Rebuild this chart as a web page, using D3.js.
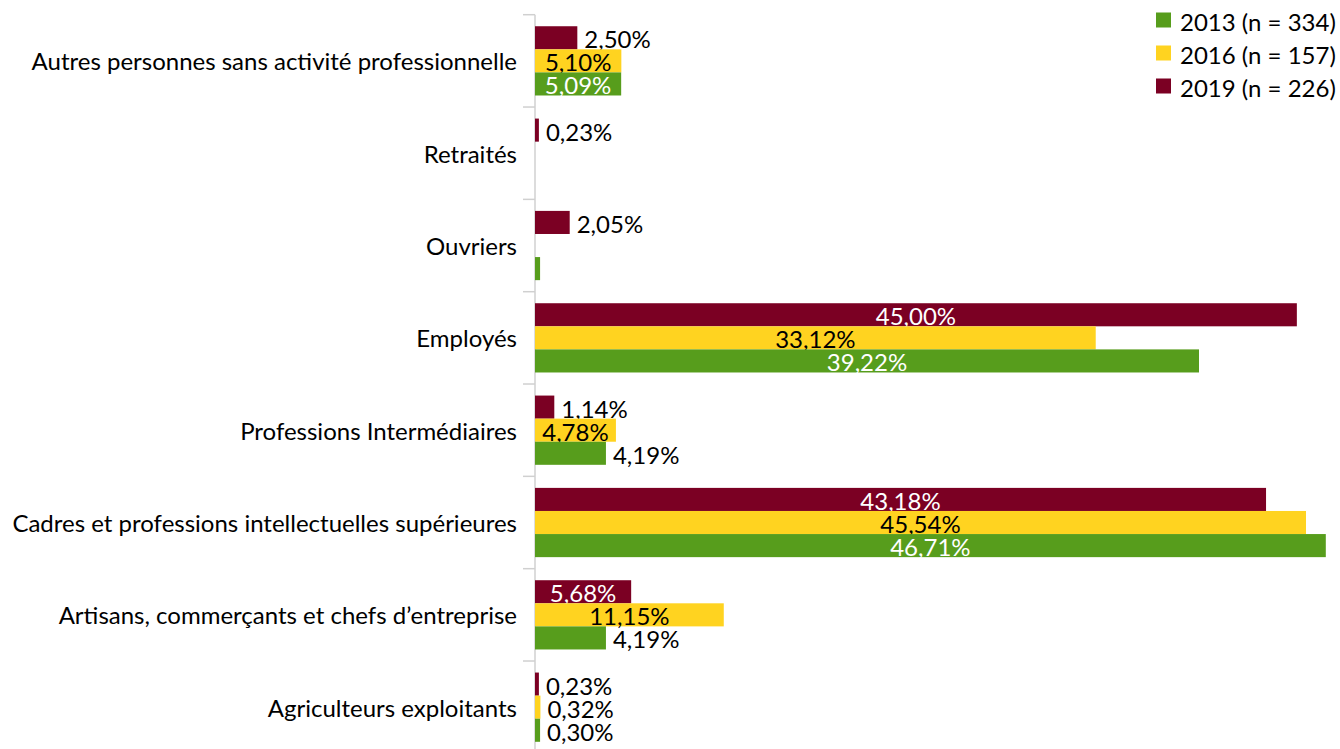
<!DOCTYPE html>
<html><head><meta charset="utf-8">
<script src="https://cdn.jsdelivr.net/npm/d3@7"></script>
<style>body{margin:0;background:#fff}svg{display:block}</style>
</head><body>
<svg id="c" width="1340" height="749"></svg>
<script>
const categories = ["Autres personnes sans activité professionnelle","Retraités","Ouvriers","Employés","Professions Intermédiaires","Cadres et professions intellectuelles supérieures","Artisans, commerçants et chefs d’entreprise","Agriculteurs exploitants"];
const seriesNames = ["2019 (n = 226)","2016 (n = 157)","2013 (n = 334)"];
const legendNames = ["2013 (n = 334)","2016 (n = 157)","2019 (n = 226)"];
const v2019 = [2.50,0.23,2.05,45.00,1.14,43.18,5.68,0.23];
const v2016 = [5.10,null,null,33.12,4.78,45.54,11.15,0.32];
const v2013 = [5.09,null,0.30,39.22,4.19,46.71,4.19,0.30];
const hiddenLabels = [["Ouvriers","2013 (n = 334)"]];

const colors = {"2019 (n = 226)":"#7B0023","2016 (n = 157)":"#FFD320","2013 (n = 334)":"#579D1C"};
const insideText = {"2019 (n = 226)":"#fff","2016 (n = 157)":"#000","2013 (n = 334)":"#fff"};
const values = {"2019 (n = 226)":v2019,"2016 (n = 157)":v2016,"2013 (n = 334)":v2013};

const svg = d3.select("#c");
const font = "Lato, 'Open Sans', sans-serif";
const fs = 24;
const x0 = 535;
const x = d3.scaleLinear().domain([0,50]).range([x0, x0 + 16.93*50]);
const y = d3.scaleBand().domain(categories).range([14.7, 14.7+92.33*8]).paddingInner(0.25).paddingOuter(0.125);
const yFull = d3.scaleBand().domain(categories).range([14.7, 14.7+92.33*8]);
const ys = d3.scaleBand().domain(seriesNames).range([0, y.bandwidth()]);

// axis
const axisG = svg.append("g");
axisG.append("line").attr("x1",x0).attr("x2",x0).attr("y1",14.7).attr("y2",749).attr("stroke","#d0d0d0").attr("stroke-width",1.5);
categories.forEach(c=>{
  const yt = yFull(c);
  axisG.append("line").attr("x1",x0-12).attr("x2",x0).attr("y1",yt).attr("y2",yt).attr("stroke","#d0d0d0").attr("stroke-width",1.5);
});
axisG.selectAll("text.cat").data(categories).join("text")
  .attr("x",517).attr("y",d=>yFull(d)+yFull.bandwidth()/2)
  .attr("text-anchor","end").attr("dominant-baseline","central")
  .attr("font-family",font).attr("font-size",fs).attr("fill","#000").text(d=>d);

const fmt = v => v.toFixed(2).replace(".",",")+"%";
const measure = svg.append("text").attr("font-family",font).attr("font-size",fs).attr("visibility","hidden");
function tw(t){measure.text(t);return measure.node().getComputedTextLength();}

seriesNames.forEach(s=>{
  const g = svg.append("g");
  const data = categories.map((c,i)=>({c, v: values[s][i]})).filter(d=>d.v!=null);
  g.selectAll("rect").data(data).join("rect")
    .attr("x",x0).attr("y",d=>y(d.c)+ys(s)).attr("width",d=>x(d.v)-x0).attr("height",ys.bandwidth())
    .attr("fill",colors[s]);
  data.forEach(d=>{
    if (hiddenLabels.some(h=>h[0]===d.c && h[1]===s)) return;
    const t = fmt(d.v);
    const w = tw(t);
    const bw = x(d.v)-x0;
    const inside = w + 10 <= bw;
    g.append("text")
      .attr("x", inside ? x0 + bw/2 : x(d.v) + 7)
      .attr("y", y(d.c)+ys(s)+ys.bandwidth()/2+1)
      .attr("text-anchor", inside ? "middle" : "start")
      .attr("dominant-baseline","central")
      .attr("font-family",font).attr("font-size",fs)
      .attr("fill", inside ? insideText[s] : "#000")
      .text(t);
  });
});

// legend
const lg = svg.append("g");
legendNames.forEach((n,i)=>{
  const cy = 20 + i*33;
  lg.append("rect").attr("x",1156).attr("y",cy-7.5).attr("width",15).attr("height",15).attr("fill",colors[n]);
  lg.append("text").attr("x",1180).attr("y",cy+1).attr("dominant-baseline","central")
    .attr("font-family",font).attr("font-size",fs).attr("fill","#000").text(n);
});
</script>
</body></html>
